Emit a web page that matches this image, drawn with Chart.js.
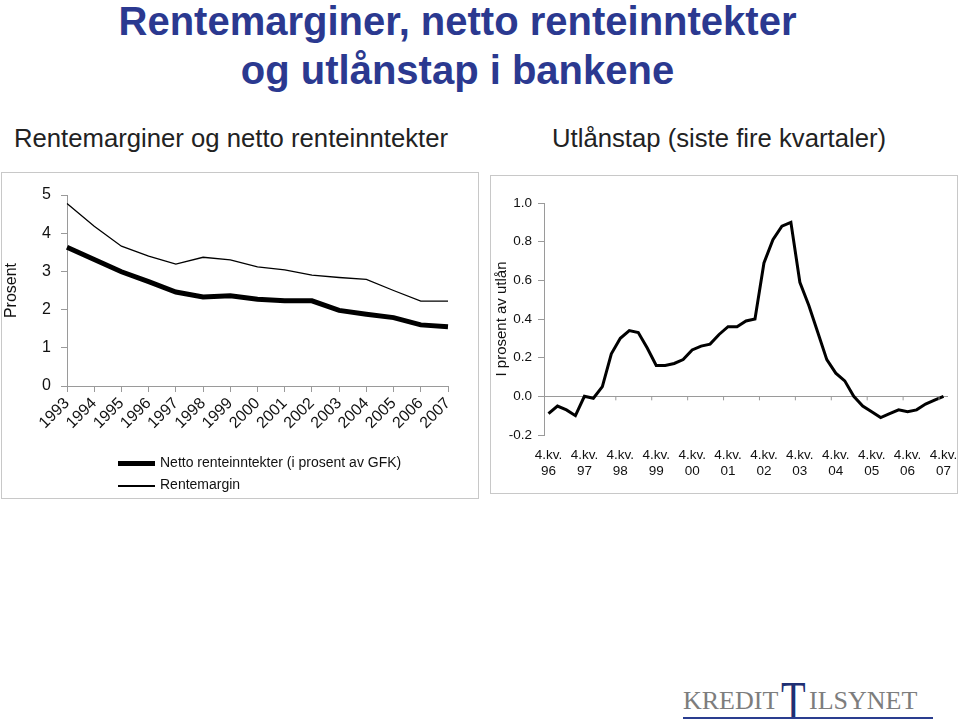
<!DOCTYPE html>
<html>
<head>
<meta charset="utf-8">
<script src="https://cdn.jsdelivr.net/npm/chart.js@4.4.1/dist/chart.umd.min.js"></script>
<style>
  body { margin: 0; background: #fff; font-family: "Liberation Sans", Arial, sans-serif; }
  #page { position: relative; width: 960px; height: 719px; overflow: hidden; }
  .tittel { position: absolute; left: 0; width: 915px; text-align: center; color: #2b3990;
            font-weight: bold; font-size: 40px; line-height: 42px; }
  .under { position: absolute; font-size: 25.7px; color: #222; white-space: nowrap; }
  .boks { position: absolute; border: 1px solid #c8c8c8; box-sizing: border-box; }
  canvas { position: absolute; }
  .leg { position: absolute; font-size: 14px; color: #111; white-space: nowrap; }
  .leg span.strek { position: absolute; left: -42px; width: 37px; background: #000; }
  .logo { position: absolute; font-family: "Liberation Serif", "Times New Roman", serif; color: #7d7d7d; white-space: nowrap; }
</style>
</head>
<body>
<div id="page">
  <div class="tittel" style="top:0px">Rentemarginer, netto renteinntekter</div>
  <div class="tittel" style="top:49px">og utlånstap i bankene</div>
  <div class="under" style="left:14px; top:124px">Rentemarginer og netto renteinntekter</div>
  <div class="under" style="left:552px; top:124px">Utlånstap (siste fire kvartaler)</div>

  <div class="boks" style="left:1px; top:172px; width:478px; height:327px"></div>
  <div class="boks" style="left:490px; top:175px; width:468px; height:319px"></div>

  <canvas id="venstre" style="left:2px; top:172px"></canvas>
  <canvas id="hoyre" style="left:491px; top:176px"></canvas>

  <div class="leg" style="left:160px; top:454px"><span class="strek" style="top:7px; height:5px"></span>Netto renteinntekter (i prosent av GFK)</div>
  <div class="leg" style="left:160px; top:476px"><span class="strek" style="top:9px; height:1.5px"></span>Rentemargin</div>

  <div class="logo" style="left:683px; top:686px; font-size:26px">KREDIT</div>
  <div class="logo" style="left:781px; top:670px; font-size:56px; color:#1f2f73; transform:scaleX(0.72); transform-origin:left top">T</div>
  <div class="logo" style="left:809px; top:686px; font-size:26px">ILSYNET</div>
  <div style="position:absolute; left:683px; top:717px; width:250px; height:2px; background:#2a3d8f"></div>
</div>
<script>
// Venstre figur: årstall og to serier (prosent)
const aar = ['1993', '1994', '1995', '1996', '1997', '1998', '1999', '2000', '2001', '2002', '2003', '2004', '2005', '2006', '2007'];
const nettoRente = [3.63, 3.31, 2.99, 2.73, 2.46, 2.33, 2.36, 2.27, 2.23, 2.23, 1.98, 1.88, 1.79, 1.60, 1.55];
const renteMargin = [4.78, 4.18, 3.66, 3.40, 3.19, 3.37, 3.30, 3.12, 3.04, 2.90, 2.84, 2.79, 2.50, 2.22, 2.22];

// Høyre figur: utlånstap siste fire kvartaler, 4.kv. 96 - 4.kv. 07
const kvartalAar = ['96', '97', '98', '99', '00', '01', '02', '03', '04', '05', '06', '07'];
const utlanstap = [-0.09, -0.05, -0.07, -0.10, 0.00, -0.01, 0.05, 0.22, 0.30, 0.34, 0.33, 0.25,
  0.16, 0.16, 0.17, 0.19, 0.24, 0.26, 0.27, 0.32, 0.36, 0.36, 0.39, 0.40,
  0.69, 0.81, 0.88, 0.90, 0.59, 0.47, 0.33, 0.19, 0.12, 0.08, 0.00, -0.05,
  -0.08, -0.11, -0.09, -0.07, -0.08, -0.07, -0.04, -0.02, 0.00];

const graa = '#9a9a9a';
Chart.defaults.font.family = '"Liberation Sans", Arial, sans-serif';
Chart.defaults.color = '#111';
Chart.defaults.animation = false;

// gjør canvas til fast størrelse
function settStr(id, b, h) {
  const c = document.getElementById(id);
  c.width = b; c.height = h;
  c.style.width = b + 'px'; c.style.height = h + 'px';
  return c.getContext('2d');
}

const ctxV = settStr('venstre', 476, 290);
new Chart(ctxV, {
  type: 'line',
  data: {
    labels: aar,
    datasets: [
      { label: 'Netto renteinntekter (i prosent av GFK)', data: nettoRente, borderColor: '#000', borderWidth: 5, pointRadius: 0, tension: 0 },
      { label: 'Rentemargin', data: renteMargin, borderColor: '#000', borderWidth: 1.3, pointRadius: 0, tension: 0 }
    ]
  },
  options: {
    responsive: false,
    layout: { padding: { top: 23, right: 30, left: 0, bottom: 0 } },
    plugins: { legend: { display: false }, tooltip: { enabled: false } },
    scales: {
      x: {
        offset: false,
        grid: { drawOnChartArea: false, color: graa, tickLength: 6 },
        border: { color: graa },
        ticks: { font: { size: 16 }, minRotation: 45, maxRotation: 45, autoSkip: false, padding: 2 },
        afterFit: (s) => { s.height = 76; }
      },
      y: {
        min: 0, max: 5,
        grid: { drawOnChartArea: false, color: graa, tickLength: 6 },
        border: { color: graa },
        ticks: { stepSize: 1, font: { size: 16 }, padding: 10 },
        title: { display: true, text: 'Prosent', font: { size: 16 }, padding: 0 },
        afterFit: (s) => { s.width = 65; }
      }
    }
  }
});

// små tikkmerker under nullinjen, mellom kvartalene (hvert 4.)
const nullTikk = {
  id: 'nullTikk',
  afterDatasetsDraw(chart) {
    const x = chart.scales.x, y = chart.scales.y, c = chart.ctx;
    const y0 = y.getPixelForValue(0);
    c.save();
    c.strokeStyle = graa; c.lineWidth = 1;
    for (let i = 7; i < utlanstap.length; i += 4) {
      const px = (x.getPixelForValue(i) + x.getPixelForValue(i + 1)) / 2;
      c.beginPath(); c.moveTo(px, y0); c.lineTo(px, y0 + 4); c.stroke();
    }
    c.restore();
  }
};

const ctxH = settStr('hoyre', 466, 317);
const kvLabels = utlanstap.map((v, i) => i % 4 === 0 ? ['4.kv.', kvartalAar[i / 4]] : '');
new Chart(ctxH, {
  type: 'line',
  data: {
    labels: kvLabels,
    datasets: [
      { label: 'Utlånstap', data: utlanstap, borderColor: '#000', borderWidth: 3, pointRadius: 0, tension: 0 }
    ]
  },
  plugins: [nullTikk],
  options: {
    responsive: false,
    layout: { padding: { top: 27, right: 9, left: 0, bottom: 0 } },
    plugins: { legend: { display: false }, tooltip: { enabled: false } },
    scales: {
      x: {
        offset: true,
        grid: { display: false },
        border: { display: false },
        ticks: { font: { size: 13.5 }, autoSkip: false, maxRotation: 0, minRotation: 0, padding: 4 },
        afterFit: (s) => { s.height = 58; s.paddingLeft = 0; s.paddingRight = 0; }
      },
      y: {
        min: -0.2, max: 1.0,
        grid: {
          drawOnChartArea: true, tickLength: 6, tickColor: graa,
          color: (c) => c.tick && Math.abs(c.tick.value) < 1e-9 ? graa : 'rgba(0,0,0,0)'
        },
        border: { color: graa },
        ticks: { stepSize: 0.2, font: { size: 13.5 }, padding: 6,
                 callback: (v) => (Math.abs(v) < 1e-9 ? 0 : Number(v)).toFixed(1) },
        title: { display: true, text: 'I prosent av utlån', font: { size: 15 }, padding: 2 },
        afterFit: (s) => { s.width = 53; }
      }
    }
  }
});
</script>
</body>
</html>
